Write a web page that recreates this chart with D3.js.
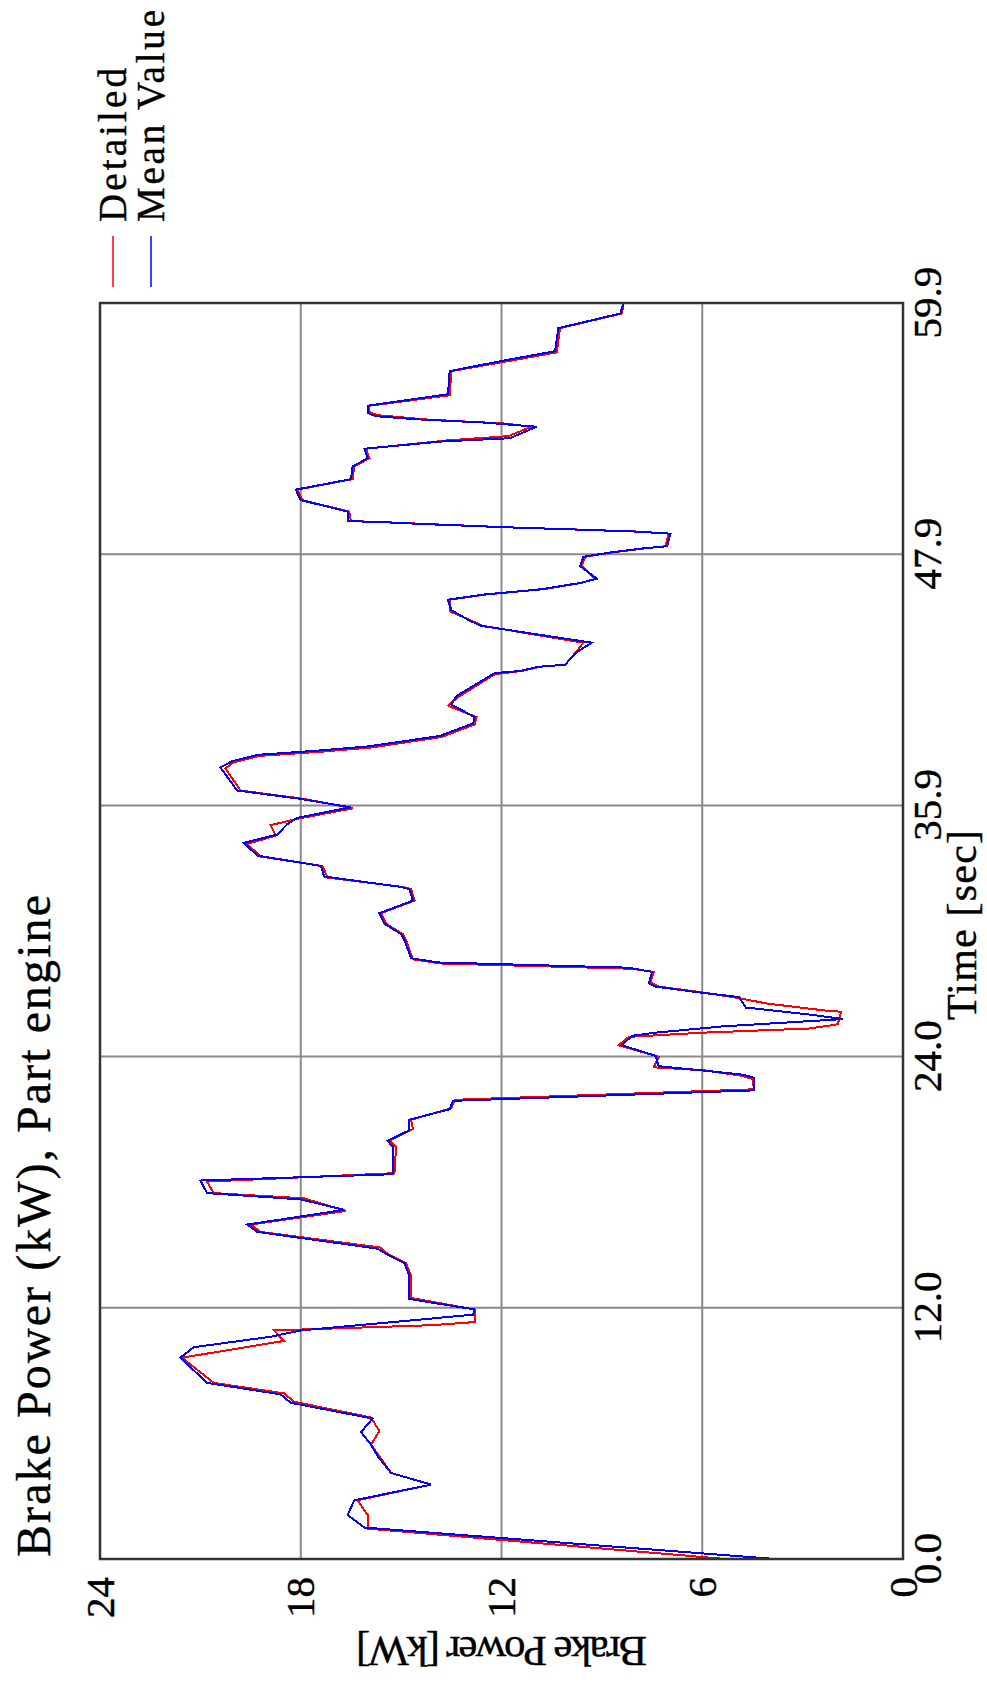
<!DOCTYPE html>
<html>
<head>
<meta charset="utf-8">
<script src="https://cdn.jsdelivr.net/npm/d3@7"></script>
<style>
  html, body { margin: 0; padding: 0; background: #fff; }
  svg { display: block; }
  text { font-family: "Liberation Serif", "Times New Roman", serif; fill: #000; stroke: #000; stroke-width: 0.4px; }
</style>
</head>
<body>
<div id="chart"></div>
<script>
// Detailed model (red)
const timeDetailed = [0.0, 1.45, 2.1, 2.8, 3.55, 4.1, 4.9, 5.45, 6.1, 6.75, 7.5, 7.9, 8.4, 9.6, 10.4, 10.9, 11.15, 11.3, 11.9,
  12.45, 13.5, 14.1, 14.6, 14.85, 15.6, 15.95, 16.6, 17.2, 17.45, 18.0, 18.4, 19.65, 19.95, 20.5, 20.95, 21.5, 21.9,
  22.4, 22.9, 23.05, 23.3, 23.45, 23.95, 24.5, 24.9, 25.1, 25.2, 25.3, 25.5, 26.1, 26.15, 26.5, 26.75, 27.0, 27.3, 27.5,
  28.0, 28.15, 28.4, 28.6, 29.5, 29.8, 30.3, 30.8, 31.4, 31.95, 32.05, 32.5, 33.05, 33.5, 34.1, 34.5, 35.0, 35.3, 35.8,
  36.25, 36.65, 37.7, 38.0, 38.3, 38.5, 38.7, 39.2, 39.8, 40.15, 40.7, 41.1, 42.2, 42.35, 42.55, 42.65, 43.2, 43.7,
  44.5, 44.75, 45.2, 45.75, 46.0, 46.25, 46.55, 46.75, 47.35, 47.8, 48.0, 48.2, 48.3, 48.9, 49.0, 49.1, 49.2, 49.35,
  49.45, 49.5, 49.95, 50.5, 51.0, 51.5, 52.1, 52.5, 52.95, 53.35, 53.55, 54.0, 54.15, 54.35, 54.55, 54.7, 55.0, 55.5,
  56.65, 57.1, 57.55, 58.7, 59.4, 59.9];
const powerDetailed = [5.3, 16.0, 16.0, 16.3, 14.1, 15.3, 15.65, 15.9, 15.65, 15.9, 18.2, 18.5, 20.6, 21.55, 18.5, 18.8, 14.1, 12.8, 12.8,
  14.7, 14.7, 14.85, 15.45, 15.6, 19.2, 19.5, 16.65, 17.9, 20.6, 20.8, 15.2, 15.15, 15.35, 14.65, 14.7, 13.5, 13.4,
  4.45, 4.5, 4.85, 5.9, 7.45, 7.3, 8.5, 8.2, 6.0, 4.4, 2.8, 1.95, 1.85, 2.3, 4.1, 4.9, 5.9, 7.3, 7.55,
  7.45, 8.1, 13.8, 14.65, 14.85, 14.95, 15.45, 15.6, 14.6, 14.7, 14.95, 17.2, 17.35, 19.2, 19.6, 18.75, 18.9, 18.1, 16.45,
  17.9, 19.8, 20.25, 20.0, 19.25, 17.4, 15.9, 13.8, 12.8, 12.75, 13.6, 13.3, 12.2, 11.4, 10.85, 10.1, 9.8, 9.55,
  12.55, 12.9, 13.55, 13.55, 12.45, 10.75, 9.6, 9.2, 9.6, 9.5, 8.7, 7.7, 7.1, 7.0, 7.95, 9.8, 11.75, 14.1,
  15.55, 16.5, 16.55, 17.95, 18.1, 16.45, 16.4, 15.95, 16.05, 13.6, 11.8, 11.1, 11.9, 14.3, 15.7, 15.95, 15.95, 13.55,
  13.5, 11.9, 10.35, 10.25, 8.4, 8.35];

// Mean value model (blue)
const timeMean = [0.0, 1.5, 2.1, 2.8, 3.55, 4.1, 4.9, 5.45, 6.05, 6.7, 7.45, 7.85, 8.4, 9.6, 10.1, 10.6, 10.9, 11.65, 11.9,
  12.4, 13.5, 14.1, 14.6, 14.8, 15.6, 15.95, 16.65, 17.15, 17.45, 18.05, 18.35, 19.65, 19.95, 20.45, 20.95, 21.45, 21.85,
  22.35, 22.95, 23.1, 23.3, 23.5, 24.0, 24.5, 24.95, 25.1, 25.4, 25.7, 25.75, 25.95, 26.3, 26.8, 27.0, 27.3, 27.45,
  28.0, 28.2, 28.45, 28.65, 29.5, 29.8, 30.3, 30.8, 31.4, 31.95, 32.05, 32.55, 33.05, 33.55, 34.15, 34.55, 35.05, 35.35, 35.85,
  36.25, 36.65, 37.75, 38.05, 38.35, 38.55, 38.75, 39.25, 39.85, 40.15, 40.75, 41.15, 42.25, 42.35, 42.55, 42.65, 43.25, 43.7,
  44.5, 44.75, 45.25, 45.75, 46.0, 46.25, 46.55, 46.75, 47.35, 47.8, 48.0, 48.2, 48.3, 48.9, 49.0, 49.1, 49.2, 49.35,
  49.45, 49.5, 49.95, 50.5, 51.0, 51.5, 52.1, 52.5, 52.95, 53.3, 53.45, 54.0, 54.2, 54.35, 54.5, 54.65, 55.0, 55.55,
  56.65, 57.15, 57.6, 58.7, 59.4, 59.9];
const powerMean = [3.8, 16.1, 16.6, 16.4, 14.1, 15.3, 15.7, 15.9, 16.2, 15.85, 18.3, 18.6, 20.8, 21.6, 21.2, 18.9, 18.0, 12.85, 12.8,
  14.75, 14.75, 14.9, 15.5, 15.7, 19.3, 19.6, 16.7, 18.0, 20.8, 21.0, 15.25, 15.25, 15.4, 14.75, 14.75, 13.55, 13.45,
  4.45, 4.45, 4.8, 6.0, 7.3, 7.4, 8.4, 8.1, 7.4, 5.4, 2.3, 1.8, 2.7, 4.7, 4.9, 6.0, 7.4, 7.6,
  7.5, 8.2, 13.9, 14.7, 14.9, 15.0, 15.5, 15.65, 14.65, 14.75, 15.0, 17.3, 17.4, 19.3, 19.7, 18.7, 18.4, 18.1, 16.5,
  18.0, 19.9, 20.4, 20.05, 19.3, 17.5, 16.0, 13.85, 12.85, 12.8, 13.5, 13.35, 12.2, 11.45, 10.9, 10.1, 9.75, 9.3,
  12.6, 12.95, 13.5, 13.6, 12.5, 10.8, 9.65, 9.15, 9.65, 9.55, 8.75, 7.75, 7.05, 6.95, 8.0, 9.85, 11.8, 14.2,
  15.6, 16.6, 16.6, 18.0, 18.15, 16.5, 16.45, 16.0, 16.1, 13.75, 11.75, 10.95, 12.55, 14.5, 15.75, 16.0, 16.0, 13.6,
  13.55, 11.95, 10.4, 10.3, 8.45, 8.35];

const timeTicks = [0, 11.98, 23.96, 35.94, 47.92, 59.9];
const powerTicks = [0, 6, 12, 18, 24];
const powerTickLabels = ['0', '6', '12', '18', '24'];
const seriesNames = ['Detailed', 'Mean Value'];
const seriesColors = ['#ff0000', '#0000ff'];

const pageW = 987, pageH = 1688;
// the chart is laid out in landscape, then turned a quarter turn counter-clockwise
const plot = { left: 129, right: 1385, top: 100, bottom: 903 };

const svg = d3.select('#chart').append('svg')
  .attr('width', pageW)
  .attr('height', pageH);

svg.append('rect').attr('width', pageW).attr('height', pageH).attr('fill', '#fff');

const g = svg.append('g')
  .attr('transform', `translate(0,${pageH}) rotate(-90)`);

const x = d3.scaleLinear().domain([0, 59.9]).range([plot.left, plot.right]);
const y = d3.scaleLinear().domain([0, 24]).range([plot.bottom, plot.top]);

// grid
g.selectAll('.vgrid')
  .data(timeTicks.slice(1, -1))
  .enter().append('line')
  .attr('x1', d => x(d)).attr('x2', d => x(d))
  .attr('y1', plot.top).attr('y2', plot.bottom)
  .attr('stroke', '#8a8a8a').attr('stroke-width', 2);

g.selectAll('.hgrid')
  .data(powerTicks.slice(1, -1))
  .enter().append('line')
  .attr('x1', plot.left).attr('x2', plot.right)
  .attr('y1', d => y(d)).attr('y2', d => y(d))
  .attr('stroke', '#8a8a8a').attr('stroke-width', 2);

// series
const series = [
  timeDetailed.map((t, i) => ({ t, p: powerDetailed[i] })),
  timeMean.map((t, i) => ({ t, p: powerMean[i] }))
];

const line = d3.line().x(d => x(d.t)).y(d => y(d.p));

series.forEach((s, i) => {
  g.append('path')
    .datum(s)
    .attr('d', line)
    .attr('fill', 'none')
    .attr('stroke', seriesColors[i])
    .attr('stroke-width', 2)
    .attr('shape-rendering', 'crispEdges');
});

// frame
g.append('rect')
  .attr('x', plot.left).attr('y', plot.top)
  .attr('width', plot.right - plot.left)
  .attr('height', plot.bottom - plot.top)
  .attr('fill', 'none')
  .attr('stroke', '#333')
  .attr('stroke-width', 2.5);

// axes
const xAxis = d3.axisBottom(x)
  .tickValues(timeTicks)
  .tickFormat(d3.format('.1f'))
  .tickSize(0)
  .tickPadding(9);

g.append('g')
  .attr('transform', `translate(0,${plot.bottom})`)
  .call(xAxis)
  .call(a => a.select('.domain').remove())
  .selectAll('text')
  .style('font-family', '"Liberation Serif", serif')
  .style('font-size', '41px');

const yAxis = d3.axisLeft(y)
  .tickValues(powerTicks)
  .tickFormat((d, i) => powerTickLabels[i])
  .tickSize(0)
  .tickPadding(18);

g.append('g')
  .attr('transform', `translate(${plot.left},0)`)
  .call(yAxis)
  .call(a => a.select('.domain').remove())
  .selectAll('text')
  .style('font-family', '"Liberation Serif", serif')
  .style('font-size', '41px');

// titles
g.append('text')
  .attr('x', 131)
  .attr('y', 50)
  .attr('textLength', 662)
  .attr('lengthAdjust', 'spacing')
  .style('font-size', '48px')
  .text('Brake Power (kW), Part engine');

g.append('text')
  .attr('x', 763)
  .attr('y', 976)
  .attr('text-anchor', 'middle')
  .attr('textLength', 190)
  .attr('lengthAdjust', 'spacing')
  .style('font-size', '42px')
  .text('Time [sec]');

g.append('text')
  .attr('transform', `translate(51,${(plot.top + plot.bottom) / 2}) rotate(-90)`)
  .attr('text-anchor', 'middle')
  .attr('textLength', 291)
  .attr('lengthAdjust', 'spacing')
  .style('font-size', '43px')
  .text('Brake Power [kW]');

// legend
const legend = g.append('g').attr('class', 'legend');
const legendRows = [113, 151];
seriesNames.forEach((name, i) => {
  legend.append('line')
    .attr('x1', 1401).attr('x2', 1452)
    .attr('y1', legendRows[i]).attr('y2', legendRows[i])
    .attr('stroke', seriesColors[i])
    .attr('stroke-width', 1.5);
  legend.append('text')
    .attr('x', 1466)
    .attr('y', legendRows[i] + 13)
    .attr('textLength', i === 0 ? 154 : 212)
    .attr('lengthAdjust', 'spacing')
    .style('font-size', '39px')
    .text(name);
});
</script>
</body>
</html>
